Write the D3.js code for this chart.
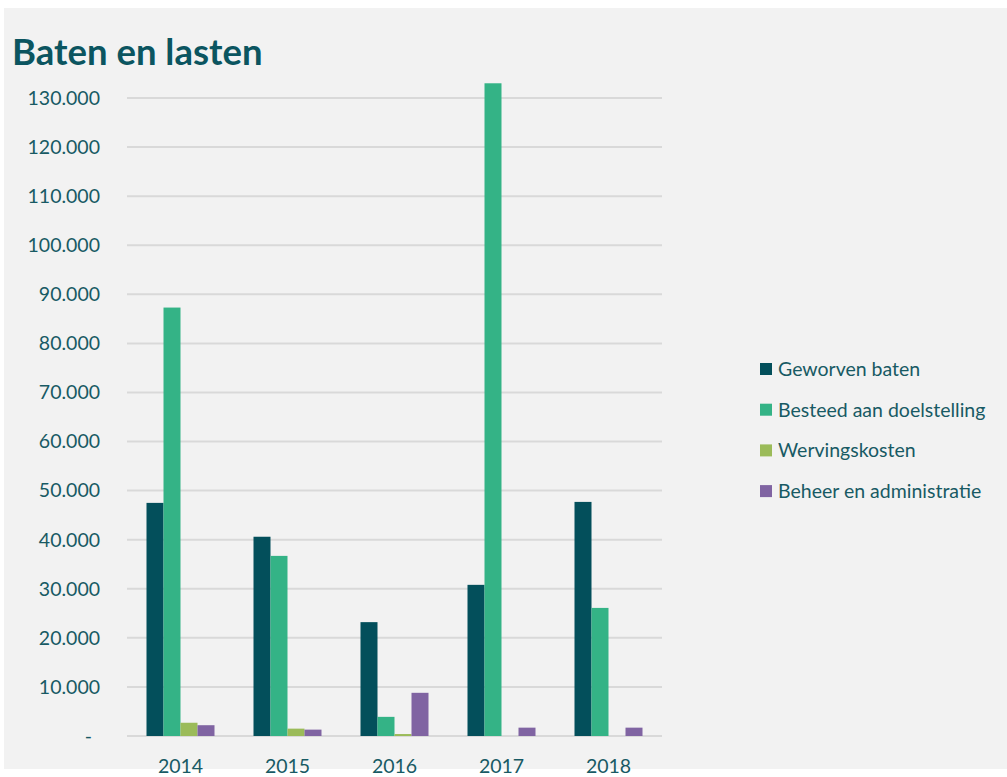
<!DOCTYPE html>
<html>
<head>
<meta charset="utf-8">
<script src="https://cdn.jsdelivr.net/npm/d3@7/dist/d3.min.js"></script>
<style>
  body { margin: 0; background: #fff; }
  text { font-family: Lato, "Open Sans", sans-serif; }
</style>
</head>
<body>
<div id="root"></div>
<script>
// data
const years = ['2014', '2015', '2016', '2017', '2018'];
const series = ['Geworven baten', 'Besteed aan doelstelling', 'Wervingskosten', 'Beheer en administratie'];
const geworvenBaten = [47500, 40600, 23200, 30800, 47700];
const besteedDoel = [87300, 36700, 3900, 133000, 26100];
const wervingskosten = [2700, 1500, 400, 0, 0];
const beheerAdmin = [2200, 1300, 8800, 1700, 1700];
const colors = ['#034f5b', '#34b386', '#9bbb59', '#8064a2'];
const yTicks = [0, 10000, 20000, 30000, 40000, 50000, 60000, 70000, 80000, 90000, 100000, 110000, 120000, 130000];

const values = [geworvenBaten, besteedDoel, wervingskosten, beheerAdmin];
const textColor = '#185a64';
const fontSize = 19.5;

var W = 1007, H = 777;
var margin = { top: 98, left: 127, right: 345, bottom: 41 };
var width = W - margin.left - margin.right,
  height = H - margin.top - margin.bottom;

var svg = d3.select('#root').append('svg')
  .attr('width', W)
  .attr('height', H);

// grey panel
svg.append('rect')
  .attr('x', 4).attr('y', 8)
  .attr('width', W - 4).attr('height', 761)
  .attr('fill', '#f2f2f2');

svg.append('text')
  .attr('x', 12).attr('y', 65)
  .attr('fill', '#0b5560')
  .attr('font-size', 36.5)
  .attr('font-weight', 'bold')
  .text('Baten en lasten');

var g = svg.append('g')
  .attr('transform', `translate(${margin.left},${margin.top})`);

var x = d3.scaleBand().domain(years).range([0, width]);
var y = d3.scaleLinear().domain([0, 130000]).range([height, 0]);

var barW = 17;
var x1 = d3.scaleBand().domain(d3.range(series.length))
  .range([x.bandwidth() / 2 - barW * 2, x.bandwidth() / 2 + barW * 2]);

// gridlines
g.selectAll('.grid')
  .data(yTicks)
  .enter().append('line')
  .attr('x1', 0).attr('x2', width)
  .attr('y1', d => y(d)).attr('y2', d => y(d))
  .attr('stroke', '#d9d9d9')
  .attr('stroke-width', 2);

// y labels
var fmt = d => d === 0 ? '-' : d3.format(',')(d).replace(/,/g, '.');
g.selectAll('.ylab')
  .data(yTicks)
  .enter().append('text')
  .attr('x', d => d === 0 ? -35 : -27)
  .attr('y', d => y(d))
  .attr('dy', '0.35em')
  .attr('text-anchor', 'end')
  .attr('font-size', fontSize)
  .attr('fill', textColor)
  .text(fmt);

// bars
var groups = g.selectAll('.year')
  .data(years)
  .enter().append('g')
  .attr('transform', d => `translate(${x(d)},0)`);

groups.selectAll('rect')
  .data((d, i) => values.map((v, s) => ({ s, v: v[i] })))
  .enter().append('rect')
  .attr('x', d => x1(d.s))
  .attr('width', x1.bandwidth())
  .attr('y', d => y(d.v))
  .attr('height', d => height - y(d.v))
  .attr('fill', d => colors[d.s]);

// x labels
g.selectAll('.xlab')
  .data(years)
  .enter().append('text')
  .attr('x', d => x(d) + x.bandwidth() / 2)
  .attr('y', height + 37)
  .attr('text-anchor', 'middle')
  .attr('font-size', fontSize)
  .attr('fill', textColor)
  .text(d => d);

// legend
var legend = svg.append('g').attr('transform', 'translate(760,369)');
var items = legend.selectAll('g')
  .data(series)
  .enter().append('g')
  .attr('transform', (d, i) => `translate(0,${i * 40.7})`);
items.append('rect')
  .attr('x', 0).attr('y', -6)
  .attr('width', 12).attr('height', 12)
  .attr('fill', (d, i) => colors[i]);
items.append('text')
  .attr('x', 18).attr('y', 0)
  .attr('dy', '0.35em')
  .attr('font-size', fontSize)
  .attr('fill', textColor)
  .text(d => d);
</script>
</body>
</html>
